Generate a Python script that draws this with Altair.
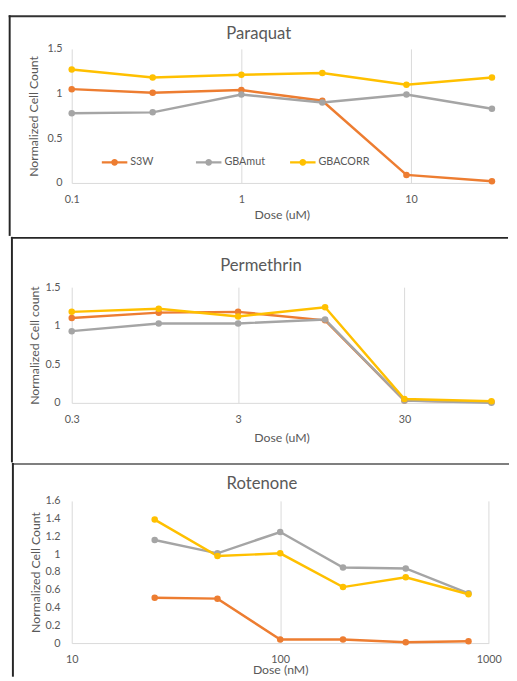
import altair as alt
import pandas as pd

FONT = "Lato"
TXT = "#595959"
GRID = "#D9D9D9"

series = ["S3W", "GBAmut", "GBACORR"]
colors = ["#ED7D31", "#A5A5A5", "#FFC000"]

# Paraquat (uM)
para_dose = [0.1, 0.3, 1, 3, 9.4, 30]
para_s3w = [1.05, 1.01, 1.04, 0.92, 0.09, 0.02]
para_gbamut = [0.78, 0.79, 0.99, 0.90, 0.99, 0.83]
para_gbacorr = [1.27, 1.18, 1.21, 1.23, 1.10, 1.18]

# Permethrin (uM)
perm_dose = [0.3, 1, 3, 10, 30, 100]
perm_s3w = [1.10, 1.17, 1.18, 1.07, 0.03, 0.01]
perm_gbamut = [0.93, 1.03, 1.03, 1.08, 0.03, 0.0]
perm_gbacorr = [1.18, 1.22, 1.12, 1.24, 0.05, 0.02]

# Rotenone (nM)
rot_dose = [25, 50, 100, 200, 400, 800]
rot_s3w = [0.51, 0.50, 0.04, 0.04, 0.01, 0.02]
rot_gbamut = [1.16, 1.01, 1.25, 0.85, 0.84, 0.56]
rot_gbacorr = [1.39, 0.98, 1.01, 0.63, 0.74, 0.55]

LEGEND_PATH = ("M-1,-0.08H1V0.08H-1Z "
               "M0.27,0A0.27,0.27,0,1,1,-0.27,0A0.27,0.27,0,1,1,0.27,0Z")


def panel(title, dose, s3w, mut, corr, xdom, xticks, xtitle, ymax, yticks,
          ytitle, g, legend=False):
    rows = []
    for name, vals in zip(series, [s3w, mut, corr]):
        for d, v in zip(dose, vals):
            rows.append({"dose": d, "value": v, "series": name})
    df = pd.DataFrame(rows)

    x = alt.X("dose:Q",
              scale=alt.Scale(type="log", domain=xdom, nice=False),
              axis=alt.Axis(values=xticks, format="~g", grid=True,
                            gridColor=GRID, gridWidth=1, ticks=False,
                            domainColor=GRID, domainWidth=1,
                            labelColor=TXT, labelFont=FONT, labelFontSize=11,
                            labelPadding=11, labelFlush=False,
                            labelOverlap=False,
                            title=xtitle, titleColor=TXT, titleFont=FONT,
                            titleFontSize=12.5, titleFontWeight="normal",
                            titleY=g["xty"], titleBaseline="middle"))
    y = alt.Y("value:Q",
              scale=alt.Scale(domain=[0, ymax], nice=False),
              axis=alt.Axis(values=yticks, format="~g", grid=False,
                            domain=False, ticks=False,
                            labelColor=TXT, labelFont=FONT, labelFontSize=11,
                            labelPadding=g["ylp"],
                            title=ytitle, titleColor=TXT, titleFont=FONT,
                            titleFontSize=12.5, titleFontWeight="normal",
                            titleX=g["ytx"], titleY=g["h"] / 2,
                            titleBaseline="middle", titleAngle=-90))
    sc = alt.Scale(domain=series, range=colors)
    if legend:
        leg = alt.Legend(orient="none", legendX=g["lx"], legendY=g["ly"],
                         direction="horizontal", title=None,
                         symbolType=LEGEND_PATH, symbolSize=676,
                         symbolStrokeWidth=0, symbolOpacity=1,
                         labelFont=FONT, labelFontSize=11, labelColor=TXT,
                         labelOffset=3, columnPadding=14, gridAlign="all",
                         padding=0)
    else:
        leg = None
    lines = alt.Chart(df).mark_line(strokeWidth=2.5).encode(
        x=x, y=y, stroke=alt.Stroke("series:N", scale=sc, legend=leg),
        order="dose:Q")
    pts = alt.Chart(df).mark_circle(size=44, opacity=1).encode(
        x=x, y=y, fill=alt.Fill("series:N", scale=sc, legend=leg))

    one = pd.DataFrame({"t": [title]})
    top = alt.Chart(one).mark_rect(color=g["tc"]).encode(
        x=alt.value(g["fl"]), x2=alt.value(g["fr"]),
        y=alt.value(g["ft"]), y2=alt.value(g["ft"] + 2))
    left = alt.Chart(one).mark_rect(color="#262626").encode(
        x=alt.value(g["fl"]), x2=alt.value(g["fl"] + 2),
        y=alt.value(g["ft"]), y2=alt.value(g["fb"]))
    ttl = alt.Chart(one).mark_text(font=FONT, fontSize=17, color=TXT,
                                   align="center", baseline="alphabetic").encode(
        text="t:N", x=alt.value(g["tx"]), y=alt.value(g["ty"]))
    return alt.layer(top, left, ttl, lines, pts).properties(
        width=g["w"], height=g["h"])


g1 = dict(w=428.6, h=136.7, fl=-64.3, ft=-34.3, fb=190.7, fr=442.7,
          tx=190.7, ty=-10.3, ytx=-39.3, xty=32.7, ylp=10, tc="#333333",
          lx=30.7, ly=102.7)
g2 = dict(w=428.1, h=118, fl=-62, ft=-51.3, fb=178.7, fr=445,
          tx=193, ty=-17, ytx=-38, xty=35.7, ylp=12, tc="#262626")
g3 = dict(w=425.3, h=145, fl=-61, ft=-38.7, fb=179.3, fr=446,
          tx=194, ty=-11.7, ytx=-37, xty=26.8, ylp=12, tc="#7F7F7F")

p1 = panel("Paraquat", para_dose, para_s3w, para_gbamut, para_gbacorr,
           [0.1, 30], [0.1, 1, 10], "Dose (uM)", 1.5, [0, 0.5, 1, 1.5],
           "Normalized Cell Count", g1, legend=True)
p2 = panel("Permethrin", perm_dose, perm_s3w, perm_gbamut, perm_gbacorr,
           [0.3, 100], [0.3, 3, 30], "Dose (uM)", 1.5, [0, 0.5, 1, 1.5],
           "Normalized Cell count", g2)
p3 = panel("Rotenone", rot_dose, rot_s3w, rot_gbamut, rot_gbacorr,
           [10, 1000], [10, 100, 1000], "Dose (nM)", 1.6,
           [0, 0.2, 0.4, 0.6, 0.8, 1, 1.2, 1.4, 1.6],
           "Normalized Cell Count", g3)

chart = alt.vconcat(p1, p2, p3, spacing=0).properties(
    padding=0, background="white"
).configure_view(strokeWidth=0).resolve_scale(
    x="independent", y="independent", stroke="independent", fill="independent")

chart.save("out.html", embed_options={"renderer": "svg", "actions": False})
